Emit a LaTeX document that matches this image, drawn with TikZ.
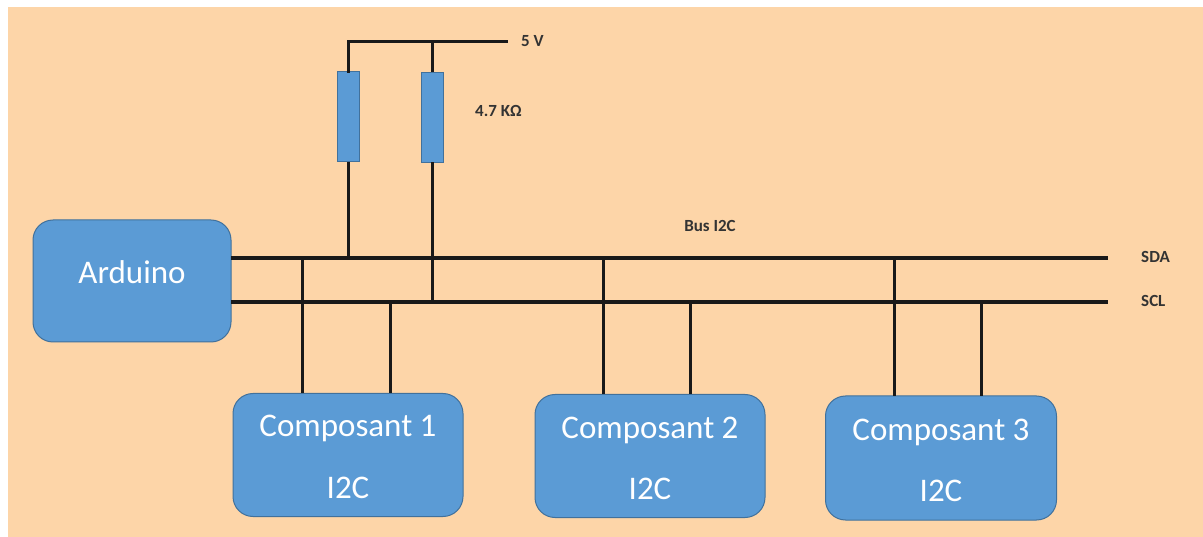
\documentclass[tikz,border=0pt]{standalone}
\usepackage{fontspec}
\setmainfont{Carlito}
\definecolor{peach}{RGB}{253,213,168}
\definecolor{boxblue}{RGB}{91,155,213}
\definecolor{boxedge}{RGB}{65,113,156}
\begin{document}
\begin{tikzpicture}[x=1pt,y=-1pt,
  blk/.style={draw=boxedge,line width=1pt,fill=boxblue,rounded corners=20pt,inner sep=0pt},
  btext/.style={text=white,font=\fontsize{33}{36}\selectfont,inner sep=0pt},
  lbl/.style={font=\bfseries\fontsize{17}{19}\selectfont,text=black!80,inner sep=0pt},
  bus/.style={line width=3.4pt,black!90},
  wire/.style={line width=3pt,black!90},
  res/.style={draw=boxedge,line width=0.8pt,fill=boxblue,minimum width=22pt,minimum height=90pt,inner sep=0pt}]
\useasboundingbox (0,0) rectangle (1203,537);
\fill[white] (0,0) rectangle (1203,537);
\fill[peach] (8,7) rectangle (1203,537);
% boxes
\node[blk,minimum width=198pt,minimum height=122pt] (ard) at (132,281) {};
\node[btext] (ardt) at (132,272) {Arduino};
\node[blk,minimum width=230pt,minimum height=123pt] (c1) at (348,455) {};
\node[blk,minimum width=230pt,minimum height=123pt] (c2) at (650,456) {};
\node[blk,minimum width=231pt,minimum height=124pt] (c3) at (941,458) {};
\node[btext] (c1a) at (348,428) {Composant 1};
\node[btext] (c1b) at (348,488) {I2C};
\node[btext] (c2a) at (650,430) {Composant 2};
\node[btext] (c2b) at (650,489) {I2C};
\node[btext] (c3a) at (941,432) {Composant 3};
\node[btext] (c3b) at (941,491) {I2C};
% resistors
\node[res] (r1) at (348,116.5) {};
\node[res] (r2) at (432,117) {};
% coordinates
\coordinate (sdaL) at (231,258);
\coordinate (sdaR) at (1108,258);
\coordinate (sclL) at (231,302);
\coordinate (sclR) at (1108,302);
\coordinate (v5a) at (348,42);
\coordinate (v5b) at (432,42);
\coordinate (v5e) at (506,42);
% bus
\draw[bus] (sdaL) -- (sdaR);
\draw[bus] (sclL) -- (sclR);
% 5V rail
\draw[wire,line cap=rect] (r1.north) -- (v5a) -- (v5e);
\draw[wire] (v5b) -- (r2.north);
\draw[wire] (r1.south) -- (348,258);
\draw[wire] (r2.south) -- (432,302);
% taps
\draw[wire] (302,258) -- (302,393.5);
\draw[wire] (390,302) -- (390,393.5);
\draw[wire] (603,258) -- (603,394.5);
\draw[wire] (690,302) -- (690,394.5);
\draw[wire] (894,258) -- (894,396);
\draw[wire] (981,302) -- (981,396);
% labels
\node[lbl,anchor=west] (l5v) at (521,41) {5 V};
\node[lbl,anchor=west] (lres) at (475,111) {4.7 KΩ};
\node[lbl] (lbus) at (710,226) {Bus I2C};
\node[lbl,anchor=west] (lsda) at (1141,257) {SDA};
\node[lbl,anchor=west] (lscl) at (1141,301) {SCL};
\end{tikzpicture}
\end{document}
